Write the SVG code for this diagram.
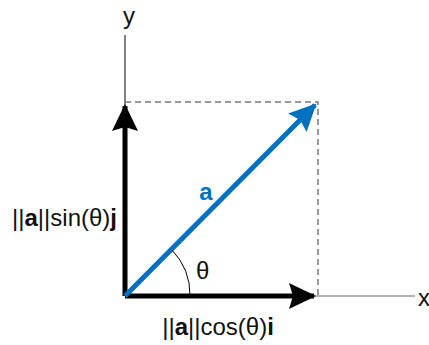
<svg xmlns="http://www.w3.org/2000/svg" width="429" height="345" viewBox="0 0 429 345">
<style>
text{font-family:"Liberation Sans",Arial,sans-serif;font-size:24px;fill:#111}
.axis{stroke:#000;stroke-width:1;fill:none}
.dash{stroke:#777;stroke-width:1.5;stroke-dasharray:6 4;fill:none}
</style>
<defs>
<marker id="ab" markerWidth="27" markerHeight="26" refX="25" refY="13" orient="auto" markerUnits="userSpaceOnUse"><path d="M0,0 L27,13 L0,26 L4,13 Z" fill="#000"/></marker>
<marker id="au" markerWidth="27" markerHeight="26" refX="25" refY="13" orient="auto" markerUnits="userSpaceOnUse"><path d="M0,0 L27,13 L0,26 L4,13 Z" fill="#0070C0"/></marker>
</defs>
<rect width="429" height="345" fill="#fff"/>
<g id="connectors">
<line class="axis" x1="125" y1="35" x2="125" y2="296"/>
<line x1="125" y1="296" x2="415" y2="296" stroke="#666" stroke-width="1.2"/>
<path class="dash" d="M125,102 H318 V296"/>
<line x1="125" y1="296" x2="125" y2="106" stroke="#000" stroke-width="5" marker-end="url(#ab)"/>
<line x1="125" y1="296" x2="314" y2="296" stroke="#000" stroke-width="5" marker-end="url(#ab)"/>
<line x1="125" y1="296" x2="315" y2="105" stroke="#0070C0" stroke-width="5" marker-end="url(#au)"/>
<path d="M172,250 A65,65 0 0 1 190,296" fill="none" stroke="#000" stroke-width="1"/>
</g>
<g id="labels">
<text x="129" y="24" text-anchor="middle">y</text>
<text x="424" y="306" text-anchor="middle">x</text>
<text x="206" y="200" text-anchor="middle" font-weight="bold" style="fill:#0070C0">a</text>
<text x="196" y="279">θ</text>
<text x="12" y="226">||<tspan font-weight="bold">a</tspan>||sin(θ)<tspan font-weight="bold">j</tspan></text>
<text x="218" y="335" text-anchor="middle">||<tspan font-weight="bold">a</tspan>||cos(θ)<tspan font-weight="bold">i</tspan></text>
</g>
</svg>
